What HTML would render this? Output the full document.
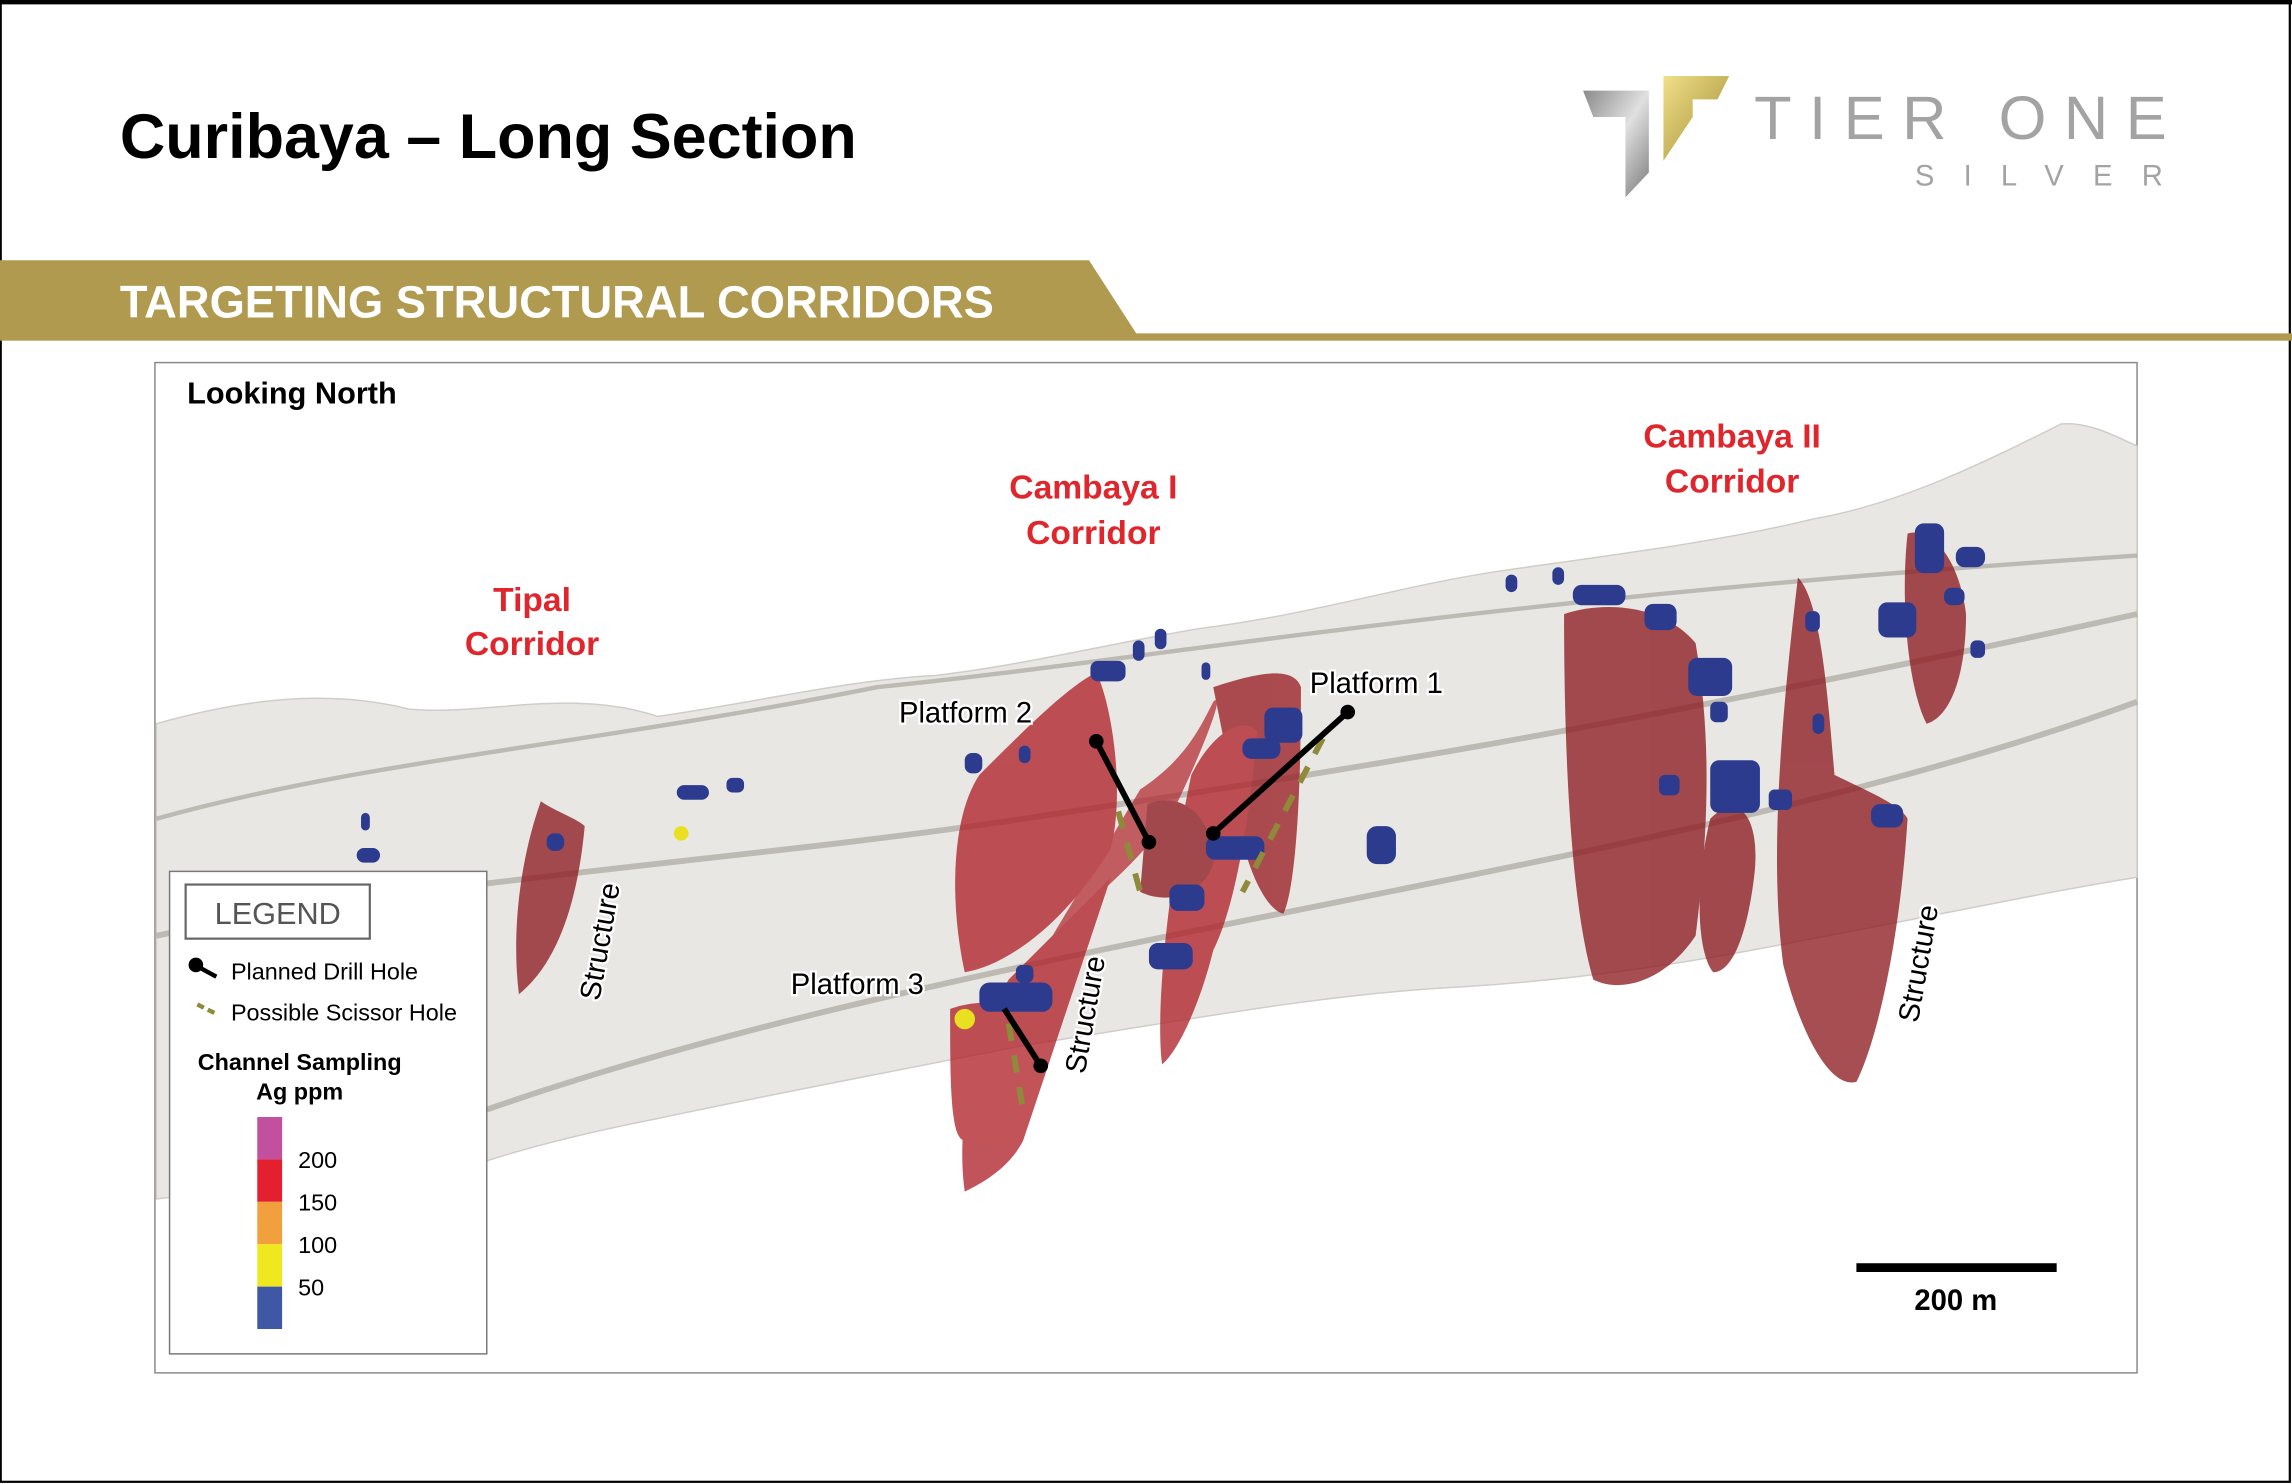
<!DOCTYPE html>
<html><head><meta charset="utf-8"><style>
html,body{margin:0;padding:0;background:#fff;}
svg{display:block;}
text{font-family:"Liberation Sans",sans-serif;}
</style></head><body>
<svg width="2292" height="1484" viewBox="0 0 1568 1015" preserveAspectRatio="none" xmlns="http://www.w3.org/2000/svg">
<defs>
<linearGradient id="sil" x1="0" y1="0" x2="1" y2="1"><stop offset="0" stop-color="#8a8a8a"/><stop offset="0.5" stop-color="#e0e0e0"/><stop offset="1" stop-color="#7a7a7a"/></linearGradient>
<linearGradient id="gld" x1="0" y1="0" x2="1" y2="1"><stop offset="0" stop-color="#f0e08a"/><stop offset="1" stop-color="#a08a30"/></linearGradient>
</defs>
<rect x="0.5" y="1.5" width="1566" height="1012" fill="#fff" stroke="#000" stroke-width="1.5"/>
<line x1="0" y1="1.5" x2="1568" y2="1.5" stroke="#000" stroke-width="3"/>
<text x="82" y="108" font-size="43" font-weight="bold" fill="#000">Curibaya – Long Section</text>
<!-- logo -->
<polygon points="1083,62 1128,62 1128,118 1112,135 1112,80 1090,80" fill="url(#sil)"/>
<polygon points="1138,52 1183,52 1175,68 1158,68 1158,80 1138,110" fill="url(#gld)"/>
<text x="1200" y="95" font-size="42" fill="#a3a3a3" letter-spacing="12">TIER ONE</text>
<text x="1310" y="127" font-size="20" fill="#a3a3a3" letter-spacing="20">SILVER</text>
<!-- banner -->
<polygon points="0,178 745,178 778,229 0,229" fill="#b09a4f"/>
<rect x="0" y="228" width="1568" height="5" fill="#b09a4f"/>
<text x="82" y="217" font-size="31" font-weight="bold" fill="#fff">TARGETING STRUCTURAL CORRIDORS</text>
<!-- map frame -->
<rect x="106" y="248" width="1356" height="691" fill="#fff" stroke="#888" stroke-width="1"/>
<!-- terrain -->
<path d="M107,495 C160,480 220,470 280,485 C330,490 390,470 450,490 C520,480 580,465 640,462 C700,455 760,440 820,430 C900,420 960,400 1030,390 C1100,380 1180,370 1240,355 C1300,345 1360,315 1410,290 C1430,288 1450,300 1462,305 L1462,600 C1400,610 1330,625 1250,640 C1150,660 1080,670 1000,675 C900,680 800,700 700,715 C600,735 520,750 450,765 C400,775 360,785 330,795 L107,820 Z" fill="#e9e7e3" stroke="#d0cdc8"/>
<path d="M107,560 C250,520 400,510 600,470 C800,450 1000,410 1462,380" fill="none" stroke="#a9a6a0" stroke-width="3" opacity="0.7"/>
<path d="M107,640 C300,600 500,590 700,560 C900,530 1100,500 1462,420" fill="none" stroke="#a9a6a0" stroke-width="4" opacity="0.7"/>
<path d="M330,760 C500,700 700,660 900,620 C1100,580 1300,540 1462,480" fill="none" stroke="#a9a6a0" stroke-width="4" opacity="0.7"/>
<!-- red bodies -->
<g fill="#b0242b" opacity="0.78">
<path d="M370,548 C380,555 395,560 400,565 C395,620 380,660 355,680 C350,640 355,590 370,548 Z" fill="#8e1c22"/>
<path d="M750,460 C760,480 770,540 760,580 C730,630 690,660 660,665 C650,620 650,560 670,530 C700,500 730,470 750,460 Z"/>
<path d="M780,540 C810,520 820,500 830,480 C840,470 820,520 800,560 C770,600 740,620 720,640 Z" opacity="0.9"/>
<path d="M760,600 C740,660 720,720 700,780 C690,800 670,810 660,815 C655,780 660,720 690,670 Z"/>
<path d="M650,690 C680,680 700,690 700,700 C690,740 680,770 660,780 C650,780 650,740 650,690 Z"/>
<path d="M830,470 C860,460 885,455 890,470 C890,560 885,610 878,625 C860,620 845,570 840,520 Z" fill="#9a1f25"/>
<path d="M815,530 C830,500 850,490 860,500 C855,560 845,620 830,650 C820,690 805,720 795,728 C790,690 800,600 815,530 Z"/>
<path d="M785,550 C810,540 830,560 830,590 C825,610 800,620 780,610 Z" fill="#8e1c22"/>
<path d="M1070,420 C1100,410 1140,415 1160,440 C1170,500 1170,560 1160,640 C1140,670 1110,680 1090,670 C1075,620 1070,520 1070,420 Z" fill="#8e1c22"/>
<path d="M1230,395 C1245,410 1250,470 1255,530 C1275,540 1300,550 1305,560 C1300,640 1285,710 1270,740 C1250,745 1230,700 1220,660 C1212,600 1215,520 1230,395 Z" fill="#8e1c22"/>
<path d="M1170,560 C1190,540 1205,560 1200,600 C1195,640 1185,665 1172,665 C1160,650 1160,600 1170,560 Z" fill="#8e1c22"/>
<path d="M1305,365 C1320,360 1340,380 1345,420 C1345,460 1335,490 1318,495 C1305,470 1300,410 1305,365 Z" fill="#8e1c22"/>
</g>
<!-- blue samples -->
<g fill="#2d3b8f">
<rect x="247" y="556" width="6" height="12" rx="3"/><rect x="244" y="580" width="16" height="10" rx="5"/>
<rect x="463" y="537" width="22" height="10" rx="5"/><rect x="497" y="532" width="12" height="10" rx="4"/>
<rect x="374" y="570" width="12" height="12" rx="5"/>
<rect x="660" y="515" width="12" height="14" rx="5"/><rect x="697" y="510" width="8" height="12" rx="4"/>
<rect x="746" y="452" width="24" height="14" rx="5"/><rect x="775" y="438" width="8" height="14" rx="4"/><rect x="790" y="430" width="8" height="14" rx="4"/><rect x="822" y="453" width="6" height="12" rx="3"/>
<rect x="865" y="484" width="26" height="24" rx="6"/><rect x="850" y="505" width="26" height="14" rx="6"/>
<rect x="825" y="572" width="40" height="16" rx="6"/><rect x="800" y="605" width="24" height="18" rx="6"/><rect x="786" y="645" width="30" height="18" rx="6"/>
<rect x="935" y="565" width="20" height="26" rx="7"/>
<rect x="670" y="672" width="50" height="20" rx="7"/><rect x="695" y="660" width="12" height="12" rx="4"/>
<rect x="1030" y="393" width="8" height="12" rx="4"/><rect x="1062" y="388" width="8" height="12" rx="4"/><rect x="1076" y="400" width="36" height="14" rx="6"/>
<rect x="1125" y="413" width="22" height="18" rx="6"/><rect x="1155" y="450" width="30" height="26" rx="6"/><rect x="1170" y="480" width="12" height="14" rx="4"/>
<rect x="1135" y="530" width="14" height="14" rx="4"/><rect x="1170" y="520" width="34" height="36" rx="6"/><rect x="1210" y="540" width="16" height="14" rx="4"/>
<rect x="1235" y="418" width="10" height="14" rx="4"/><rect x="1240" y="488" width="8" height="14" rx="4"/>
<rect x="1280" y="550" width="22" height="16" rx="6"/>
<rect x="1310" y="358" width="20" height="34" rx="6"/><rect x="1338" y="374" width="20" height="14" rx="6"/><rect x="1330" y="402" width="14" height="12" rx="5"/>
<rect x="1285" y="412" width="26" height="24" rx="6"/><rect x="1348" y="438" width="10" height="12" rx="4"/>
</g>
<circle cx="660" cy="697" r="7" fill="#e8e020"/><circle cx="466" cy="570" r="5" fill="#e8e020"/>
<!-- scissor dashes -->
<g stroke="#8e8a3a" stroke-width="4" stroke-dasharray="12 10">
<line x1="765" y1="555" x2="780" y2="610"/><line x1="905" y1="505" x2="850" y2="610"/><line x1="690" y1="700" x2="700" y2="760"/>
</g>
<!-- planned holes -->
<g stroke="#000" stroke-width="4">
<line x1="750" y1="507" x2="786" y2="576"/><line x1="922" y1="487" x2="830" y2="570"/><line x1="687" y1="690" x2="712" y2="729"/>
</g>
<g fill="#000"><circle cx="750" cy="507" r="5"/><circle cx="786" cy="576" r="5"/><circle cx="922" cy="487" r="5"/><circle cx="830" cy="570" r="5"/><circle cx="712" cy="729" r="5"/></g>
<!-- labels -->
<g font-size="23" font-weight="bold" fill="#e0262d" text-anchor="middle">
<text x="364" y="418">Tipal</text><text x="364" y="448">Corridor</text>
<text x="748" y="341">Cambaya I</text><text x="748" y="372">Corridor</text>
<text x="1185" y="306">Cambaya II</text><text x="1185" y="337">Corridor</text>
</g>
<g font-size="20" fill="#000" stroke="#fff" stroke-width="3" paint-order="stroke">
<text x="615" y="494">Platform 2</text><text x="896" y="474">Platform 1</text><text x="541" y="680">Platform 3</text>
<text transform="translate(410,685) rotate(-80)">Structure</text>
<text transform="translate(742,735) rotate(-80)">Structure</text>
<text transform="translate(1312,700) rotate(-80)">Structure</text>
</g>
<text x="128" y="276" font-size="21" font-weight="bold" fill="#000">Looking North</text>
<!-- legend -->
<rect x="116" y="596" width="217" height="330" fill="#fff" stroke="#777"/>
<rect x="127" y="605" width="126" height="37" fill="#fff" stroke="#666" stroke-width="1.5"/>
<text x="190" y="632" font-size="21" fill="#555" text-anchor="middle">LEGEND</text>
<circle cx="134" cy="660" r="5" fill="#000"/><line x1="137" y1="662" x2="148" y2="668" stroke="#000" stroke-width="3"/>
<text x="158" y="670" font-size="16" fill="#000">Planned Drill Hole</text>
<line x1="135" y1="687" x2="149" y2="694" stroke="#8e8a3a" stroke-width="3" stroke-dasharray="5 3"/>
<text x="158" y="698" font-size="16" fill="#000">Possible Scissor Hole</text>
<text x="205" y="732" font-size="16" font-weight="bold" fill="#000" text-anchor="middle">Channel Sampling</text>
<text x="205" y="752" font-size="16" font-weight="bold" fill="#000" text-anchor="middle">Ag ppm</text>
<rect x="176" y="764" width="17" height="29" fill="#c34f9f"/>
<rect x="176" y="793" width="17" height="29" fill="#e5202e"/>
<rect x="176" y="822" width="17" height="29" fill="#f2a03e"/>
<rect x="176" y="851" width="17" height="29" fill="#f0e81e"/>
<rect x="176" y="880" width="17" height="29" fill="#3f58a6"/>
<g font-size="16" fill="#000"><text x="204" y="799">200</text><text x="204" y="828">150</text><text x="204" y="857">100</text><text x="204" y="886">50</text></g>
<!-- scale -->
<rect x="1270" y="864" width="137" height="6" fill="#000"/>
<text x="1338" y="896" font-size="20" font-weight="bold" fill="#000" text-anchor="middle">200 m</text>
</svg>
</body></html>
